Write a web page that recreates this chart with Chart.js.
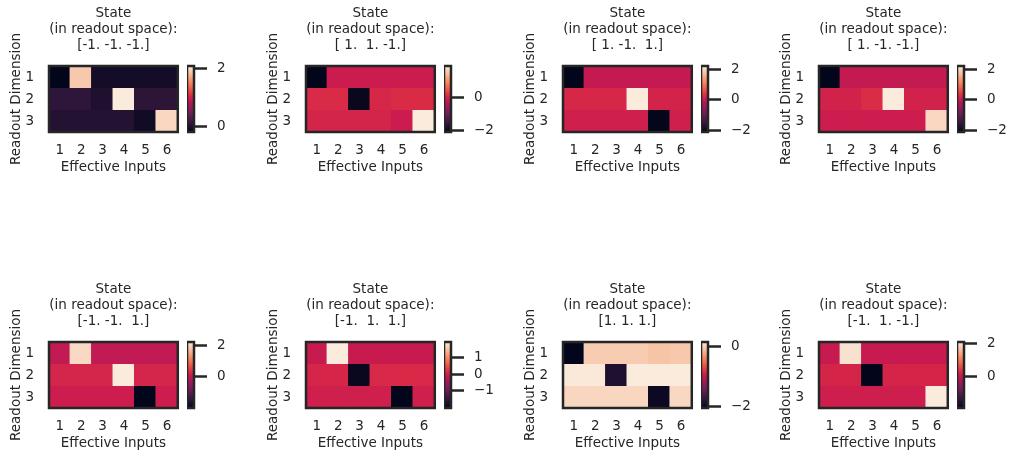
<!DOCTYPE html>
<html>
<head>
<meta charset="utf-8">
<script src="https://cdn.jsdelivr.net/npm/chart.js@4.4.1/dist/chart.umd.min.js"></script>
<style>
  body { margin: 0; background: #fff; }
  #wrap { position: relative; width: 1011px; height: 456px; overflow: hidden; }
  canvas { position: absolute; }
</style>
</head>
<body>
<div id="wrap"></div>
<script>
// heatmap axes
const rowLabels = ['1', '2', '3'];
const colLabels = ['1', '2', '3', '4', '5', '6'];

// panel titles (state in readout space)
const stateLabels = [
    '[-1. -1. -1.]', '[ 1.  1. -1.]', '[ 1. -1.  1.]', '[ 1. -1. -1.]',
    '[-1. -1.  1.]', '[-1.  1.  1.]', '[1. 1. 1.]', '[-1.  1. -1.]'
];

// cell values, one 3x6 matrix per panel
const p1 = [[-0.21, 1.89, -0.09, -0.09, -0.09, -0.09], [0.07, 0.07, -0.03, 2.1, 0.06, 0.06], [0.0, 0.0, 0.0, 0.0, -0.11, 1.98]];
const p2 = [[-2.12, -0.07, -0.07, -0.07, -0.07, -0.07], [0.12, 0.12, -2.04, 0.07, 0.13, 0.13], [0.04, 0.04, 0.04, 0.04, -0.07, 1.98]];
const p3 = [[-2.13, -0.04, -0.04, -0.04, -0.04, -0.04], [0.19, 0.19, 0.19, 2.2, 0.14, 0.14], [0.08, 0.08, 0.08, 0.08, -2.1, 0.08]];
const p4 = [[-2.13, -0.05, -0.05, -0.05, -0.05, -0.05], [0.12, 0.12, 0.25, 2.2, 0.12, 0.12], [0.06, 0.06, 0.06, 0.06, 0.06, 1.98]];
const p5 = [[0.03, 2.0, 0.03, 0.03, 0.03, 0.03], [0.24, 0.24, 0.24, 2.2, 0.24, 0.24], [0.14, 0.14, 0.14, 0.14, -1.97, 0.14]];
const p6 = [[-0.08, 1.97, -0.08, -0.08, -0.08, -0.08], [0.08, 0.08, -1.98, 0.12, 0.12, 0.12], [0.0, 0.0, 0.0, 0.0, -2.06, 0.0]];
const p7 = [[-2.04, -0.02, -0.02, -0.02, -0.06, -0.04], [0.14, 0.14, -1.86, 0.16, 0.16, 0.16], [0.04, 0.04, 0.04, 0.04, -1.97, 0.05]];
const p8 = [[0.06, 1.98, 0.06, 0.06, 0.06, 0.06], [0.22, 0.22, -1.88, 0.22, 0.22, 0.22], [0.14, 0.14, 0.14, 0.14, 0.14, 2.08]];
const panels = [p1, p2, p3, p4, p5, p6, p7, p8];

// colorbar tick values per panel
const cbarTicks = [[0, 2], [-2, 0], [-2, 0, 2], [-2, 0, 2], [0, 2], [-1, 0, 1], [-2, 0], [0, 2]];

// seaborn "rocket" colormap, approximated by stops
const rocketStops = [
    [0.0, [3, 5, 26]],
    [0.143, [53, 25, 62]],
    [0.286, [112, 31, 87]],
    [0.429, [173, 23, 89]],
    [0.5, [203, 27, 79]],
    [0.571, [225, 51, 66]],
    [0.714, [243, 118, 81]],
    [0.857, [246, 180, 143]],
    [1.0, [250, 235, 221]]
];

function rocket(t) {
    t = Math.max(0, Math.min(1, t));
    for (let k = 1; k < rocketStops.length; k++) {
        const [t1, c1] = rocketStops[k];
        const [t0, c0] = rocketStops[k - 1];
        if (t <= t1) {
            const f = (t - t0) / (t1 - t0);
            const c = c0.map((v, j) => Math.round(v + (c1[j] - v) * f));
            return `rgb(${c[0]}, ${c[1]}, ${c[2]})`;
        }
    }
    return 'rgb(250, 235, 221)';
}

const ink = '#262626';
const font = { family: 'DejaVu Sans', size: 13.5, lineHeight: 16 / 13.5 };
Chart.defaults.font.family = 'DejaVu Sans';
Chart.defaults.color = ink;

const frame = {
    id: 'frame',
    afterDatasetsDraw(chart) {
        const { ctx, chartArea: a } = chart;
        ctx.save();
        ctx.strokeStyle = ink;
        ctx.lineWidth = 2.5;
        ctx.strokeRect(a.left, a.top, a.right - a.left, a.bottom - a.top);
        ctx.restore();
    }
};

const colX = [0, 257, 514, 770];
const wrap = document.getElementById('wrap');

function addCanvas(left, top, w, h) {
    const c = document.createElement('canvas');
    c.width = w; c.height = h;
    c.style.left = left + 'px'; c.style.top = top + 'px';
    c.style.width = w + 'px'; c.style.height = h + 'px';
    wrap.appendChild(c);
    return c;
}

panels.forEach((m, i) => {
    const ox = colX[i % 4];
    const oy = Math.floor(i / 4) * 276;
    const all = m.flat();
    const vmin = Math.min(...all);
    const vmax = Math.max(...all);

    // heatmap
    const hm = addCanvas(ox, oy, 182, 180);
    new Chart(hm, {
        type: 'bar',
        data: {
            labels: colLabels,
            datasets: m.map((row, k) => ({
                data: row.map(() => [k, k + 1]),
                backgroundColor: row.map(v => rocket((v - vmin) / (vmax - vmin))),
                barPercentage: 1.08,
                categoryPercentage: 1,
                borderWidth: 0,
                grouped: false
            }))
        },
        options: {
            responsive: false,
            animation: false,
            devicePixelRatio: 1,
            layout: { padding: { left: 0, right: 3, top: 0, bottom: 0 } },
            plugins: {
                legend: { display: false },
                tooltip: { enabled: false },
                title: {
                    display: true,
                    fullSize: false,
                    text: ['State', '(in readout space):', stateLabels[i]],
                    font: { ...font, weight: 'normal' },
                    color: ink,
                    padding: { top: 5.6, bottom: 12.4 }
                }
            },
            scales: {
                x: {
                    grid: { display: false, drawTicks: false },
                    border: { display: false },
                    ticks: { font, color: ink, padding: 10.3, maxRotation: 0, autoSkip: false },
                    title: { display: true, text: 'Effective Inputs', font, color: ink, padding: { top: 0, bottom: 4.9 } },
                    afterFit: s => { s.height = 48; }
                },
                y: {
                    type: 'linear',
                    min: 0,
                    max: 3,
                    reverse: true,
                    grid: { display: false, drawTicks: false },
                    border: { display: false },
                    afterBuildTicks: s => { s.ticks = rowLabels.map((_, k) => ({ value: k + 0.5 })); },
                    ticks: { font, color: ink, padding: 15, callback: (v, k) => rowLabels[k] },
                    title: { display: true, text: 'Readout Dimension', font, color: ink, padding: { top: 8.5, bottom: 0 } },
                    afterFit: s => { s.width = 49; }
                }
            }
        },
        plugins: [frame]
    });

    // colorbar
    const cb = addCanvas(ox + 187, oy, 60, 180);
    new Chart(cb, {
        type: 'bar',
        data: {
            labels: [''],
            datasets: [{
                data: [[vmin, vmax]],
                backgroundColor: ctx => {
                    const a = ctx.chart.chartArea;
                    if (!a) return ink;
                    const g = ctx.chart.ctx.createLinearGradient(0, a.bottom, 0, a.top);
                    rocketStops.forEach(([t, c]) => g.addColorStop(t, `rgb(${c[0]}, ${c[1]}, ${c[2]})`));
                    return g;
                },
                barPercentage: 1,
                categoryPercentage: 1,
                borderWidth: 0
            }]
        },
        options: {
            responsive: false,
            animation: false,
            devicePixelRatio: 1,
            layout: { padding: { left: 0, right: 0, top: 66, bottom: 48 } },
            plugins: { legend: { display: false }, tooltip: { enabled: false } },
            scales: {
                x: { display: false },
                y: {
                    position: 'right',
                    min: vmin,
                    max: vmax,
                    border: { display: false },
                    grid: { display: true, drawOnChartArea: false, drawTicks: true, tickLength: 13, tickWidth: 2.5, tickColor: ink },
                    afterBuildTicks: s => { s.ticks = cbarTicks[i].map(v => ({ value: v })); },
                    ticks: { font, color: ink, padding: 10, callback: v => (v < 0 ? '\u2212' + Math.abs(v) : String(v)) },
                    afterFit: s => { s.width = 53; }
                }
            }
        },
        plugins: [frame]
    });
});
</script>
</body>
</html>
